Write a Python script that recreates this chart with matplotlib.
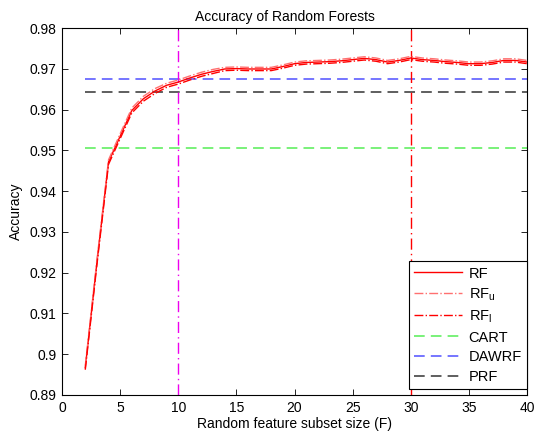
import matplotlib
matplotlib.use("Agg")
import matplotlib.pyplot as plt

plt.rcParams['font.family'] = ['Liberation Sans', 'DejaVu Sans']

F = list(range(2, 41))
rf = [0.8967, 0.9225, 0.9472, 0.9535, 0.9598, 0.9627, 0.9646, 0.9660, 0.9668, 0.9678,
      0.9687, 0.9694, 0.9700, 0.9701, 0.9700, 0.9700, 0.9700, 0.9706, 0.9713, 0.9716,
      0.9717, 0.9718, 0.9720, 0.9723, 0.9726, 0.9723, 0.9717, 0.9721, 0.9727, 0.9723,
      0.9721, 0.9718, 0.9716, 0.9713, 0.9713, 0.9716, 0.9721, 0.9721, 0.9717]
rf_u = [0.8972, 0.9231, 0.9477, 0.9541, 0.9604, 0.9633, 0.9652, 0.9665, 0.9673, 0.9683,
        0.9692, 0.9699, 0.9704, 0.9705, 0.9704, 0.9704, 0.9704, 0.9710, 0.9717, 0.9720,
        0.9721, 0.9722, 0.9724, 0.9727, 0.9730, 0.9727, 0.9721, 0.9725, 0.9731, 0.9727,
        0.9725, 0.9722, 0.9720, 0.9717, 0.9717, 0.9720, 0.9725, 0.9725, 0.9721]
rf_l = [0.8962, 0.9219, 0.9466, 0.9529, 0.9592, 0.9621, 0.9640, 0.9655, 0.9663, 0.9673,
        0.9682, 0.9689, 0.9696, 0.9697, 0.9696, 0.9696, 0.9696, 0.9702, 0.9709, 0.9712,
        0.9713, 0.9714, 0.9716, 0.9719, 0.9722, 0.9719, 0.9713, 0.9717, 0.9723, 0.9719,
        0.9717, 0.9714, 0.9712, 0.9709, 0.9709, 0.9712, 0.9717, 0.9717, 0.9713]
cart = 0.9507
dawrf = 0.9675
prf = 0.9644
vlines = [10, 30]
xticks = list(range(0, 41, 5))
yticks = [0.89, 0.90, 0.91, 0.92, 0.93, 0.94, 0.95, 0.96, 0.97, 0.98]
ytick_labels = ['0.89', '0.9', '0.91', '0.92', '0.93', '0.94', '0.95', '0.96', '0.97', '0.98']

fig = plt.figure(figsize=(5.37, 4.33), dpi=100)
ax = fig.add_axes([0.1155, 0.0878, 0.866, 0.847])

fs = 10
dash = (0, (7, 4))
ax.plot(F, rf, color='#ff0000', lw=1.0, label='RF', zorder=3)
ax.plot(F, rf_u, color='#ff7070', lw=1.0, ls='-.', label='RF$_\\mathregular{u}$', zorder=3)
ax.plot(F, rf_l, color='#ff0000', lw=1.0, ls='-.', label='RF$_\\mathregular{l}$', zorder=3)
ax.plot([F[0], F[-1]], [cart, cart], color='#55ee55', lw=1.1, ls=dash, label='CART')
ax.plot([F[0], F[-1]], [dawrf, dawrf], color='#5050ff', lw=1.1, ls=dash, label='DAWRF')
ax.plot([F[0], F[-1]], [prf, prf], color='#333333', lw=1.1, ls=dash, label='PRF')
ax.axvline(vlines[0], color='#ee00ee', lw=1.0, ls=(0, (8, 3, 1, 3)))
ax.axvline(vlines[1], color='#ff0000', lw=1.0, ls=(0, (8, 3, 1, 3)))

ax.set_xlim(0, 40)
ax.set_ylim(0.89, 0.98)
ax.set_xticks(xticks)
ax.set_yticks(yticks)
ax.set_yticklabels(ytick_labels)
ax.tick_params(direction='in', top=True, right=True, labelsize=fs, length=4, width=0.6, pad=4)
for s in ax.spines.values():
    s.set_linewidth(0.8)
ax.set_title('Accuracy of Random Forests', fontsize=fs, pad=5, x=0.48)
ax.set_xlabel('Random feature subset size (F)', fontsize=fs, labelpad=2)
ax.set_ylabel('Accuracy', fontsize=fs, labelpad=5)

leg = ax.legend(loc='lower right', bbox_to_anchor=(1.0, 0.017), fontsize=10.5,
                fancybox=False, framealpha=1, edgecolor='black', borderaxespad=0,
                handlelength=3.3, handletextpad=0.45, labelspacing=0.38,
                borderpad=0.35)
leg.get_frame().set_linewidth(0.8)
leg.set_zorder(10)

fig.savefig('out.png', dpi=100)
